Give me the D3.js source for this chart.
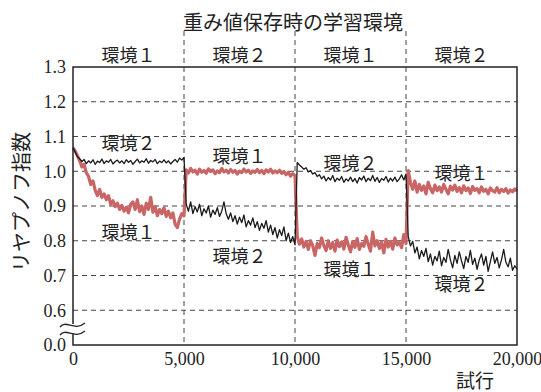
<!DOCTYPE html>
<html>
<head>
<meta charset="utf-8">
<script src="https://cdn.jsdelivr.net/npm/d3@7/dist/d3.min.js"></script>
<style>
  html, body { margin: 0; padding: 0; background: #fff; }
  svg { display: block; }
</style>
</head>
<body>
<svg id="chart" width="541" height="392"></svg>
<script>
// Trials are sampled every 100 steps, 0 … 20,000
const trialStep = 100;

// Training phases (which environment the weights were stored under)
const phaseLabels = ["環境１", "環境２", "環境１", "環境２"];
const phaseBounds = [0, 5000, 10000, 15000, 20000];

// Lyapunov exponent measured in environment 1 (red)
const env1Lyapunov = [
  1.068, 1.058, 1.045, 1.030, 1.012, 1.020, 0.996, 0.985, 0.962, 0.972,
  0.945, 0.930, 0.948, 0.925, 0.935, 0.918, 0.930, 0.905, 0.915, 0.898,
  0.908, 0.890, 0.902, 0.885, 0.896, 0.880, 0.905, 0.912, 0.890, 0.918,
  0.884, 0.900, 0.876, 0.908, 0.890, 0.925, 0.882, 0.898, 0.872, 0.890,
  0.878, 0.895, 0.870, 0.885, 0.866, 0.880, 0.848, 0.838, 0.862, 0.878,
  0.872,
  1.004, 0.995, 1.008, 0.998, 1.003, 0.992, 1.006, 0.997, 1.002, 0.994,
  1.007, 0.999, 1.004, 0.993, 1.001, 0.996, 1.008, 0.998, 1.003, 0.995,
  1.005, 0.997, 1.002, 0.992, 1.000, 0.996, 1.006, 0.998, 1.003, 0.994,
  1.001, 0.997, 1.005, 0.996, 1.002, 0.993, 1.004, 0.998, 1.006, 0.995,
  1.001, 0.996, 1.003, 0.994, 0.999, 0.990, 0.997, 0.986, 0.993, 0.988,
  0.812, 0.790, 0.805, 0.782, 0.798, 0.775, 0.800, 0.785, 0.758, 0.792,
  0.780, 0.808, 0.786, 0.772, 0.800, 0.778, 0.795, 0.770, 0.802, 0.783,
  0.797, 0.776, 0.810, 0.788, 0.768, 0.798, 0.781, 0.806, 0.775, 0.792,
  0.784, 0.812, 0.790, 0.770, 0.825, 0.785, 0.800, 0.778, 0.796, 0.765,
  0.804, 0.782, 0.798, 0.776, 0.808, 0.788, 0.795, 0.780, 0.818, 0.792,
  1.002, 0.968, 0.948, 0.972, 0.940, 0.962, 0.945, 0.958, 0.935, 0.968,
  0.950, 0.938, 0.960, 0.944, 0.955, 0.940, 0.962, 0.948, 0.935, 0.957,
  0.946, 0.960, 0.942, 0.953, 0.938, 0.958, 0.944, 0.952, 0.936, 0.956,
  0.945, 0.950, 0.938, 0.955, 0.942, 0.948, 0.935, 0.952, 0.944, 0.940,
  0.953, 0.938, 0.948, 0.942, 0.950, 0.937, 0.946, 0.941, 0.949, 0.943
];

// Lyapunov exponent measured in environment 2 (black)
const env2Lyapunov = [
  1.068, 1.055, 1.042, 1.036, 1.028, 1.034, 1.022, 1.030, 1.024, 1.033,
  1.020, 1.029, 1.025, 1.035, 1.022, 1.030, 1.026, 1.034, 1.021, 1.028,
  1.032, 1.024, 1.030, 1.022, 1.033, 1.026, 1.031, 1.020, 1.028, 1.035,
  1.024, 1.030, 1.026, 1.036, 1.023, 1.031, 1.027, 1.034, 1.022, 1.029,
  1.025, 1.033, 1.024, 1.030, 1.021, 1.028, 1.034, 1.026, 1.038, 1.032,
  1.040,
  0.905, 0.885, 0.912, 0.878, 0.898, 0.883, 0.905, 0.872, 0.892, 0.880,
  0.900, 0.868, 0.888, 0.876, 0.895, 0.870, 0.885, 0.912, 0.878, 0.862,
  0.880, 0.855, 0.872, 0.848, 0.868, 0.852, 0.874, 0.840, 0.858, 0.845,
  0.866, 0.838, 0.855, 0.830, 0.850, 0.836, 0.858, 0.825, 0.845, 0.818,
  0.838, 0.808, 0.832, 0.815, 0.840, 0.800, 0.822, 0.795, 0.812, 0.788,
  1.025, 1.018, 1.012, 1.006, 1.010, 0.998, 1.002, 0.992, 0.996, 0.985,
  0.990, 0.978, 0.986, 0.972, 0.982, 0.975, 0.988, 0.970, 0.980, 0.974,
  0.985, 0.968, 0.978, 0.972, 0.983, 0.970, 0.979, 0.966, 0.982, 0.975,
  0.986, 0.970, 0.980, 0.973, 0.988, 0.971, 0.982, 0.968, 0.979, 0.974,
  0.985, 0.969, 0.980, 0.972, 0.983, 0.970, 0.978, 0.990, 0.975, 0.992,
  0.812, 0.785, 0.798, 0.765, 0.782, 0.748, 0.772, 0.755, 0.778, 0.740,
  0.762, 0.730, 0.755, 0.742, 0.770, 0.728, 0.752, 0.738, 0.775, 0.745,
  0.722, 0.758, 0.735, 0.768, 0.742, 0.720, 0.755, 0.738, 0.772, 0.732,
  0.750, 0.718, 0.745, 0.762, 0.730, 0.755, 0.712, 0.740, 0.768, 0.735,
  0.752, 0.722, 0.745, 0.775, 0.738, 0.725, 0.750, 0.715, 0.728, 0.718
];

// Axis ticks; the lowest tick sits below an axis break and reads 0.0
const yTickValues = [0.5, 0.6, 0.7, 0.8, 0.9, 1.0, 1.1, 1.2, 1.3];
const yTickLabels = ["0.0", "0.6", "0.7", "0.8", "0.9", "1.0", "1.1", "1.2", "1.3"];
const yGridValues = [0.6, 0.7, 0.8, 0.9, 1.0, 1.1, 1.2];
const xTickValues = [0, 5000, 10000, 15000, 20000];

// Curve annotations inside each phase: [phase index, series, label, value at baseline]
const curveNotes = [
  { phase: 0, text: "環境２", v: 1.06 },
  { phase: 0, text: "環境１", v: 0.805 },
  { phase: 1, text: "環境１", v: 1.025 },
  { phase: 1, text: "環境２", v: 0.735 },
  { phase: 2, text: "環境２", v: 1.005 },
  { phase: 2, text: "環境１", v: 0.70 },
  { phase: 3, text: "環境１", v: 0.975 },
  { phase: 3, text: "環境２", v: 0.655 }
];

const serif = "'Liberation Serif', 'Times New Roman', serif";
const cjk = "'Noto Sans CJK JP', 'Noto Sans', sans-serif";

const svg = d3.select("#chart");
const x = d3.scaleLinear().domain([0, 20000]).range([73, 517]);
const y = d3.scaleLinear().domain([0.5, 1.3]).range([345, 67]);

// Title
svg.append("text")
  .attr("x", 293).attr("y", 30)
  .attr("text-anchor", "middle")
  .style("font-family", cjk).style("font-size", "20px").style("fill", "#222")
  .text("重み値保存時の学習環境");

// Horizontal dashed grid
svg.append("g").selectAll("line").data(yGridValues).join("line")
  .attr("x1", x(0)).attr("x2", x(20000))
  .attr("y1", d => y(d)).attr("y2", d => y(d))
  .attr("stroke", "#444").attr("stroke-width", 1)
  .attr("stroke-dasharray", "5,4");

// Vertical dashed phase separators, extended above the frame
svg.append("g").selectAll("line").data(phaseBounds.slice(1, -1)).join("line")
  .attr("x1", d => x(d)).attr("x2", d => x(d))
  .attr("y1", 31).attr("y2", y(0.5))
  .attr("stroke", "#444").attr("stroke-width", 1)
  .attr("stroke-dasharray", "5,4");

// Phase labels above the frame
svg.append("g").selectAll("text").data(phaseLabels).join("text")
  .attr("x", (d, i) => x((phaseBounds[i] + phaseBounds[i + 1]) / 2))
  .attr("y", 62)
  .attr("text-anchor", "middle")
  .style("font-family", cjk).style("font-size", "18px").style("fill", "#222")
  .text(d => d);

// Series lines
const line = d3.line()
  .x((d, i) => x(i * trialStep))
  .y(d => y(d));

svg.append("path").datum(env1Lyapunov)
  .attr("d", line)
  .attr("fill", "none")
  .attr("stroke", "#c96565")
  .attr("stroke-width", 3.2)
  .attr("stroke-linejoin", "round");

svg.append("path").datum(env2Lyapunov)
  .attr("d", line)
  .attr("fill", "none")
  .attr("stroke", "#1a1a1a")
  .attr("stroke-width", 1.3)
  .attr("stroke-linejoin", "round");

// Curve annotations
svg.append("g").selectAll("text").data(curveNotes).join("text")
  .attr("x", d => x((phaseBounds[d.phase] + phaseBounds[d.phase + 1]) / 2))
  .attr("y", d => y(d.v))
  .attr("text-anchor", "middle")
  .style("font-family", cjk).style("font-size", "18px").style("fill", "#222")
  .text(d => d.text);

// Frame
svg.append("rect")
  .attr("x", x(0)).attr("y", y(1.3))
  .attr("width", x(20000) - x(0)).attr("height", y(0.5) - y(1.3))
  .attr("fill", "none").attr("stroke", "#222").attr("stroke-width", 1.5);

// Axes (labels only; the frame draws the lines)
const yAxis = d3.axisLeft(y)
  .tickValues(yTickValues)
  .tickFormat((d, i) => yTickLabels[i])
  .tickSize(0).tickPadding(7);
const gy = svg.append("g").attr("transform", `translate(${x(0)},0)`).call(yAxis);
gy.select(".domain").remove();
gy.selectAll("text")
  .style("font-family", serif).style("font-size", "18px").style("fill", "#222");

const xAxis = d3.axisBottom(x)
  .tickValues(xTickValues)
  .tickFormat(d3.format(","))
  .tickSize(0).tickPadding(7);
const gx = svg.append("g").attr("transform", `translate(0,${y(0.5)})`).call(xAxis);
gx.select(".domain").remove();
gx.selectAll("text")
  .style("font-family", serif).style("font-size", "18px").style("fill", "#222");

// Axis break between 0.0 and 0.6
svg.append("rect")
  .attr("x", x(0) - 3).attr("y", 324).attr("width", 6).attr("height", 10)
  .attr("fill", "#fff");
[0, 8].forEach(off => {
  svg.append("path")
    .attr("d", `M60,${327 + off} C66,${319 + off} 74,${332 + off} 85,${323 + off}`)
    .attr("fill", "none").attr("stroke", "#222").attr("stroke-width", 1.3);
});

// Axis titles
svg.append("text")
  .attr("transform", "translate(29,202) rotate(-90)")
  .attr("text-anchor", "middle")
  .style("font-family", cjk).style("font-size", "20px").style("fill", "#222")
  .text("リヤプノフ指数");

svg.append("text")
  .attr("x", 475).attr("y", 388)
  .attr("text-anchor", "middle")
  .style("font-family", cjk).style("font-size", "19px").style("fill", "#222")
  .text("試行");
</script>
</body>
</html>
